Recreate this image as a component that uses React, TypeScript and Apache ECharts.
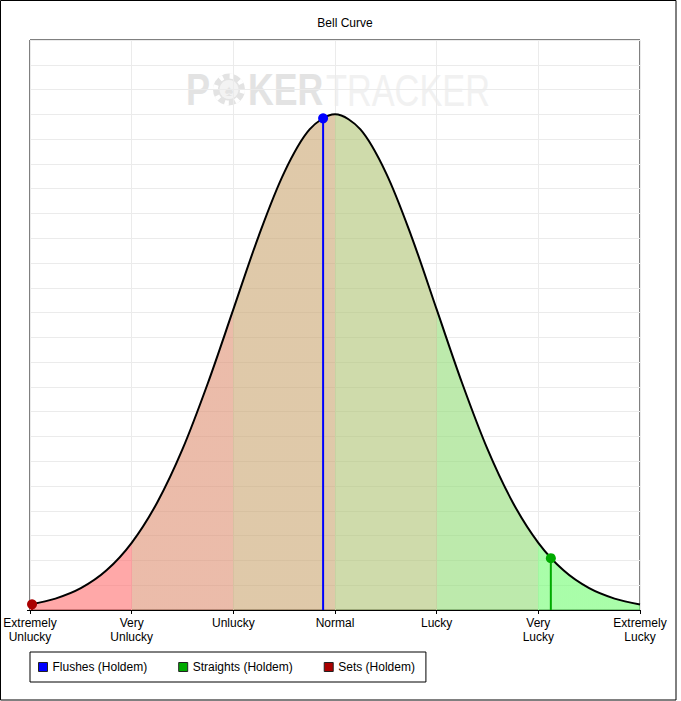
import React, { useEffect, useRef } from "react";
import * as echarts from "echarts";

const FONT = "'Liberation Sans', Arial, sans-serif";

// x-axis band labels (one per integer position 0..6)
const bandLabels = [
  "Extremely\nUnlucky",
  "Very\nUnlucky",
  "Unlucky",
  "Normal",
  "Lucky",
  "Very\nLucky",
  "Extremely\nLucky",
];

// bell curve points (y in grid units, 23 units tall)
const curveX = [
  0, 0.25, 0.5, 0.75, 1, 1.25, 1.5, 1.75, 2, 2.25, 2.5, 2.75, 3,
  3.25, 3.5, 3.75, 4, 4.25, 4.5, 4.75, 5, 5.25, 5.5, 5.75, 6,
];
const curveY = [
  0.22, 0.46, 0.88, 1.59, 2.71, 4.33, 6.49, 9.16, 12.13, 15.1, 17.65, 19.39, 20.0,
  19.39, 17.65, 15.1, 12.13, 9.16, 6.49, 4.33, 2.71, 1.59, 0.88, 0.46, 0.22,
];

// band fill colours (left to right)
const bandColors = [
  "rgba(255,110,110,0.6)",
  "rgba(222,143,113,0.6)",
  "rgba(202,165,112,0.6)",
  "rgba(175,195,115,0.6)",
  "rgba(145,220,117,0.6)",
  "rgba(112,253,112,0.6)",
];

// hand-type series
const seriesNames = ["Flushes (Holdem)", "Straights (Holdem)", "Sets (Holdem)"];
const seriesColors = ["#0000ff", "#00aa00", "#aa0000"];
const seriesX = [2.883, 5.123, 0.02];
const seriesY = [19.84, 2.09, 0.23];

export default function App() {
  const ref = useRef<HTMLDivElement>(null);

  useEffect(() => {
    if (!ref.current) return;
    const chart = echarts.init(ref.current, undefined, { renderer: "svg" });

    const stops: { offset: number; color: string }[] = [];
    bandColors.forEach((c, i) => {
      stops.push({ offset: i / bandColors.length, color: c });
      stops.push({ offset: (i + 1) / bandColors.length, color: c });
    });

    const curveData = curveX.map((x, i) => [x, curveY[i]]);

    const markerSeries = seriesNames.map((name, i) => ({
      name,
      type: "line",
      color: seriesColors[i],
      z: 5,
      silent: true,
      lineStyle: { color: seriesColors[i], width: 2 },
      itemStyle: { color: seriesColors[i] },
      data: [
        { value: [seriesX[i], seriesY[i]], symbol: "circle", symbolSize: 10 },
        { value: [seriesX[i], 0], symbol: "none" },
      ],
    }));

    chart.setOption({
      animation: false,
      backgroundColor: "#ffffff",
      textStyle: { fontFamily: FONT },
      grid: {
        left: 30,
        top: 40,
        right: 41,
        bottom: 91,
        show: true,
        borderColor: "#000",
        borderWidth: 1,
        backgroundColor: "transparent",
        containLabel: false,
      },
      xAxis: {
        type: "value",
        min: 0,
        max: 6,
        interval: 1,
        axisLine: { show: true, lineStyle: { color: "#000", width: 1 } },
        axisTick: { show: true, length: 4, lineStyle: { color: "#000" } },
        axisLabel: {
          margin: 6,
          color: "#000",
          fontSize: 12,
          fontFamily: FONT,
          lineHeight: 14,
          formatter: (v: number) => bandLabels[Math.round(v)] ?? "",
        },
        splitLine: { show: true, lineStyle: { color: "#ebebeb", width: 1 } },
      },
      yAxis: [
        {
          type: "value",
          min: 0,
          max: 23,
          interval: 1,
          axisLine: { show: false },
          axisTick: { show: false },
          axisLabel: { show: false },
          splitLine: { show: true, lineStyle: { color: "#ebebeb", width: 1 } },
        },
        {
          type: "value",
          position: "left",
          min: 0,
          max: 23,
          interval: 23,
          axisLine: { show: false },
          axisTick: {
            show: true,
            customValues: [0],
            length: 3,
            lineStyle: { color: "#000" },
          },
          axisLabel: { show: false },
          splitLine: { show: false },
        },
      ],
      legend: {
        data: seriesNames,
        left: 30,
        top: 652,
        orient: "horizontal",
        icon: "rect",
        itemWidth: 9,
        itemHeight: 9,
        itemGap: 31,
        padding: [9, 11, 9, 8],
        borderColor: "#000",
        borderWidth: 1,
        borderRadius: 0,
        selectedMode: false,
        itemStyle: { borderColor: "#222", borderWidth: 1 },
        textStyle: { color: "#000", fontSize: 12, fontFamily: FONT },
      },
      graphic: [
        {
          type: "group",
          z: -10,
          silent: true,
          children: [
            {
              type: "text",
              x: 186,
              y: 90,
              scaleX: 0.82,
              style: {
                text: "P",
                font: `bold 44px ${FONT}`,
                fill: "#e3e3e3",
                align: "left",
                verticalAlign: "middle",
              },
            },
            { type: "circle", shape: { cx: 229, cy: 89.5, r: 16 }, style: { fill: "#e3e3e3" } },
            {
              type: "circle",
              shape: { cx: 229, cy: 89.5, r: 13.5 },
              style: { fill: "none", stroke: "#ffffff", lineWidth: 5, lineDash: [4, 6.6] },
            },
            { type: "circle", shape: { cx: 229, cy: 89.5, r: 9.5 }, style: { fill: "#f3f3f3" } },
            {
              type: "text",
              x: 229,
              y: 90,
              style: {
                text: "\u2660",
                font: `16px ${FONT}`,
                fill: "#e3e3e3",
                align: "center",
                verticalAlign: "middle",
              },
            },
            {
              type: "text",
              x: 248,
              y: 90,
              scaleX: 0.81,
              style: {
                text: "KER",
                font: `bold 44px ${FONT}`,
                fill: "#e3e3e3",
                align: "left",
                verticalAlign: "middle",
              },
            },
            {
              type: "text",
              x: 326,
              y: 90,
              scaleX: 0.78,
              style: {
                text: "TRACKER",
                font: `44px ${FONT}`,
                fill: "#f1f1f1",
                align: "left",
                verticalAlign: "middle",
              },
            },
          ],
        },
        {
          type: "text",
          x: 345,
          y: 23,
          silent: true,
          style: {
            text: "Bell Curve",
            font: `12px ${FONT}`,
            fill: "#000",
            align: "center",
            verticalAlign: "middle",
          },
        },
        {
          type: "rect",
          silent: true,
          z: 100,
          shape: { x: 0.5, y: 0.5, width: 675.5, height: 699.5 },
          style: { fill: "none", stroke: "#000", lineWidth: 1 },
        },
      ],
      series: [
        {
          name: "curve",
          type: "line",
          z: 3,
          silent: true,
          smooth: 0.33,
          symbol: "none",
          lineStyle: { color: "#000", width: 2 },
          areaStyle: {
            origin: "start",
            color: new echarts.graphic.LinearGradient(0, 0, 1, 0, stops),
            opacity: 1,
          },
          data: curveData,
        },
        ...markerSeries,
      ],
    } as any);

    return () => chart.dispose();
  }, []);

  return (
    <div
      ref={ref}
      style={{ position: "absolute", left: 0, top: 0, width: 681, height: 701 }}
    />
  );
}
